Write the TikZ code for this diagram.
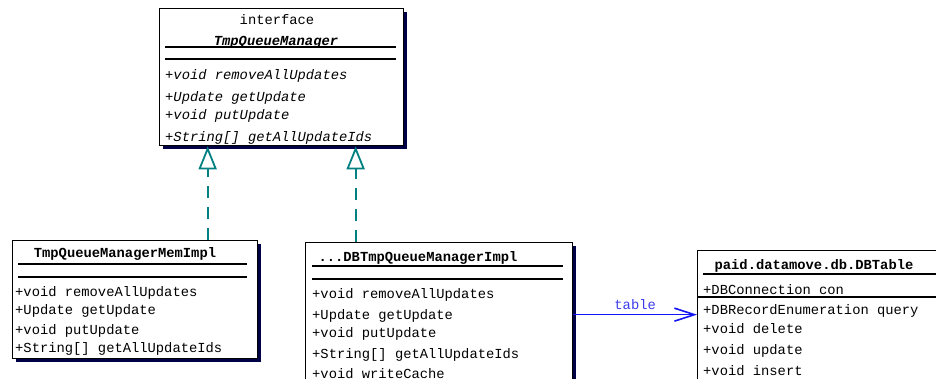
\documentclass[tikz,border=0pt]{standalone}
\usepackage{fontspec}
\setmonofont{Liberation Mono}
\usepackage{xcolor}
\usepackage{tikz}
\usetikzlibrary{arrows.meta, shadows}

\definecolor{umlteal}{RGB}{0,128,128}
\definecolor{umlblue}{RGB}{20,20,245}
\definecolor{umllabel}{RGB}{60,60,235}
\definecolor{umlshadow}{RGB}{0,0,70}
\newcommand{\umlfont}{\fontsize{13.8}{16}\selectfont\ttfamily}

\begin{document}
\begin{tikzpicture}[
      x=1pt, y=-1pt,
      classbox/.style={
         draw=black,
         line width=1.3pt,
         fill=white,
         anchor=north west,
         inner sep=0pt,
         drop shadow={shadow xshift=3pt, shadow yshift=-3pt,
                      fill=umlshadow, opacity=1}},
      member/.style={anchor=mid west, inner sep=0pt, yshift=-2.5pt, font=\umlfont},
      classname/.style={anchor=mid, inner sep=0pt, yshift=-2.5pt, font=\umlfont\bfseries},
      sepline/.style={line width=1.6pt},
      realize/.style={
         draw=umlteal, line width=1.8pt,
         dash pattern=on 12pt off 9pt,
         -{Triangle[open, length=23pt, width=18pt, line width=1.8pt]}},
      assoc/.style={
         draw=umlblue, line width=1.6pt,
         -{Straight Barb[length=20pt, width=13pt, line width=1.6pt]}}
      ]
      \useasboundingbox (0,0) rectangle (936,378);
      \clip (0,0) rectangle (936,378);

      % class boxes
      \node[classbox, minimum width=244pt, minimum height=137pt] at (159, 8) (mgr) {};
      \node[classbox, minimum width=245pt, minimum height=118pt] at (12, 240) (mem) {};
      \node[classbox, minimum width=267pt, minimum height=160pt] at (305, 242) (db) {};
      \node[classbox, minimum width=260pt, minimum height=150pt] at (697, 250) (tab) {};

      % compartments
      \foreach \xa/\xb/\y in {165/396/47, 165/396/59,
                              18/247/264, 18/247/277,
                              312/563/266, 312/563/279,
                              703/940/274, 697/940/297}
        \draw[sepline] (\xa, \y) -- (\xb, \y);

      % interface
      \node[inner sep=0pt, font=\umlfont] at (277, 20) (mgr-st) {interface};
      \node[classname, font=\umlfont\bfseries\itshape] at (276, 41) (mgr-name) {TmpQueueManager};
      \foreach \y/\txt [count=\i] in {%
        75/{+void removeAllUpdates},
        97/{+Update getUpdate},
        115/{+void putUpdate},
        137/{+String[] getAllUpdateIds}}
        \node[member, font=\umlfont\itshape] at (165, \y) (mgr-\i) {\txt};

      % memory implementation
      \node[classname] at (125, 253) (mem-name) {TmpQueueManagerMemImpl};
      \foreach \y/\txt [count=\i] in {%
        292/{+void removeAllUpdates},
        310/{+Update getUpdate},
        330/{+void putUpdate},
        348/{+String[] getAllUpdateIds}}
        \node[member] at (15, \y) (mem-\i) {\txt};

      % database implementation
      \node[classname] at (418, 257) (db-name) {...DBTmpQueueManagerImpl};
      \foreach \y/\txt [count=\i] in {%
        294/{+void removeAllUpdates},
        315/{+Update getUpdate},
        333/{+void putUpdate},
        354/{+String[] getAllUpdateIds},
        374/{+void writeCache}}
        \node[member] at (312, \y) (db-\i) {\txt};

      % table class
      \node[classname] at (814, 265) (tab-name) {paid.datamove.db.DBTable};
      \foreach \y/\txt [count=\i] in {%
        290/{+DBConnection con},
        310/{+DBRecordEnumeration query},
        329/{+void delete},
        350/{+void update},
        371/{+void insert}}
        \node[member] at (703, \y) (tab-\i) {\txt};

      % relations
      \draw[realize] ([xshift=72.5pt]mem.north) -- ([xshift=72.5pt]mem.north |- mgr.south);
      \draw[realize] ([xshift=-83.5pt]db.north) -- ([xshift=-83.5pt]db.north |- mgr.south);
      \draw[assoc] ([yshift=8pt]db.east) -- ([yshift=8pt]db.east -| tab.west)
        node[midway, above=4pt, inner sep=0pt, font=\umlfont, text=umllabel] (tab-role) {table};

\end{tikzpicture}
\end{document}
